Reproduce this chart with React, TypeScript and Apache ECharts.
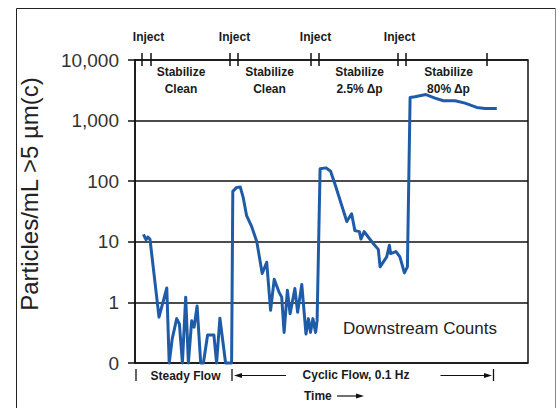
import React, { useEffect, useRef } from "react";
import * as echarts from "echarts";

// Time (arbitrary units, plot spans 0..131) and downstream particle counts (per mL, >5 µm(c)).
// A count of 0 is drawn on the "0" line (0.1 on the log scale).
const times = [
  2.8, 3.7, 4.3, 5.0, 8.0, 10.6, 11.4, 12.4, 13.9, 14.8,
  15.8, 16.9, 17.8, 18.9, 19.7, 20.7, 21.9, 22.8, 24.2, 26.3,
  27.2, 28.3, 30.2, 32.2, 32.6, 33.9, 35.1, 36.1, 37.2, 38.9,
  40.6, 42.4, 43.9, 45.2, 46.4, 48.0, 48.9, 49.7, 50.8, 51.7,
  53.3, 54.2, 55.6, 57.0, 57.8, 58.5, 59.3, 60.2, 60.7, 61.7,
  63.7, 65.2, 66.7, 70.6, 72.2, 73.3, 74.8, 75.3, 76.4, 77.8,
  79.4, 81.1, 81.7, 83.9, 84.8, 85.2, 87.0, 88.3, 89.8, 90.8,
  91.7, 93.3, 97.0, 100.0, 102.8, 106.7, 110.0, 113.9, 116.7, 120.6,
];
const counts = [
  13.3, 10.8, 12, 11, 0.57, 1.73, 0.1, 0.25, 0.54, 0.44,
  0.1, 1.22, 0.1, 0.5, 0.39, 0.87, 0.1, 0.1, 0.29, 0.29,
  0.1, 0.55, 0.1, 0.1, 68, 79, 80, 53, 27, 17.8,
  10, 3.0, 4.6, 0.74, 2.4, 1.48, 1.22, 0.32, 1.58, 0.65,
  1.69, 0.69, 1.97, 0.3, 0.54, 0.32, 0.54, 0.32, 0.5, 160,
  166, 146, 88, 21.6, 29, 15.3, 14.7, 11.1, 14.7, 11.9,
  9.4, 7.5, 3.86, 5.65, 8.8, 6.4, 6.9, 5.65, 3.07, 3.86,
  2400, 2476, 2690, 2355, 2125, 2125, 1945, 1650, 1585, 1585,
];
const yTickValues = [0.1, 1, 10, 100, 1000, 10000];
const yTickLabels = ["0", "1", "10", "100", "1,000", "10,000"];
const injectLabels = ["Inject", "Inject", "Inject", "Inject"];
const stabilizeLabels = ["Stabilize\nClean", "Stabilize\nClean", "Stabilize\n2.5% \u0394p", "Stabilize\n80% \u0394p"];

const FONT = "'Liberation Sans', Arial, Helvetica, sans-serif";
const INK = "#1a1a1a";

export default function App() {
  const ref = useRef<HTMLDivElement>(null);
  useEffect(() => {
    document.body.style.margin = "0";
    if (!ref.current) return;
    const chart = echarts.init(ref.current, null, { renderer: "svg" });

    const injectX = [148.5, 234.5, 315.5, 399.5];
    const stabX = [181, 269.5, 359.5, 448.5];
    const topTickX = [142, 151, 230, 238, 311, 319, 398, 406, 487];

    const bold = { fontFamily: FONT, fontWeight: "bold", fontSize: 12, fill: INK } as any;
    const ln = (x1: number, y1: number, x2: number, y2: number, stroke = "#111", lineWidth = 1.5) => ({
      type: "line",
      shape: { x1, y1, x2, y2 },
      style: { stroke, lineWidth },
      silent: true,
    });
    const graphics: any[] = [
      ln(16.5, 8.5, 16.5, 408, "#222", 1),
      ln(16.5, 8.5, 555.5, 8.5, "#222", 1),
      ln(555.5, 8.5, 555.5, 408, "#888", 1),
      {
        type: "text",
        x: 29,
        y: 194,
        rotation: Math.PI / 2,
        style: {
          text: "Particles/mL >5 \u00b5m(c)",
          fontFamily: FONT,
          fontSize: 24,
          fill: "#222",
          align: "center",
          verticalAlign: "middle",
        },
        silent: true,
      },
      ...injectLabels.map((t, i) => ({
        type: "text",
        x: injectX[i],
        y: 37,
        style: { ...bold, text: t, align: "center", verticalAlign: "middle" },
        silent: true,
      })),
      ...stabilizeLabels.map((t, i) => ({
        type: "text",
        x: stabX[i],
        y: 80.5,
        style: { ...bold, text: t, align: "center", verticalAlign: "middle", lineHeight: 17.6 },
        silent: true,
      })),
      ...topTickX.map((x) => ln(x, 53, x, 66, "#111", 1.5)),
      {
        type: "text",
        x: 343,
        y: 328,
        style: { text: "Downstream Counts", fontFamily: FONT, fontSize: 17, fill: "#222", align: "left", verticalAlign: "middle" },
        silent: true,
      },
      ln(136, 369, 136, 381, "#111", 1.3),
      {
        type: "text",
        x: 185.5,
        y: 376,
        style: { ...bold, text: "Steady Flow", align: "center", verticalAlign: "middle" },
        silent: true,
      },
      ln(232, 369, 232, 381, "#111", 1.3),
      ln(238, 375.5, 286, 375.5, "#111", 1.2),
      { type: "polygon", shape: { points: [[234, 375.5], [242, 373], [242, 378]] }, style: { fill: "#111" }, silent: true },
      {
        type: "text",
        x: 356,
        y: 375,
        style: { ...bold, text: "Cyclic Flow, 0.1 Hz", align: "center", verticalAlign: "middle" },
        silent: true,
      },
      ln(440.5, 375.5, 487, 375.5, "#111", 1.2),
      { type: "polygon", shape: { points: [[492, 375.5], [484, 373], [484, 378]] }, style: { fill: "#111" }, silent: true },
      ln(493.5, 369, 493.5, 381, "#111", 1.3),
      {
        type: "text",
        x: 304,
        y: 396,
        style: { ...bold, text: "Time", align: "left", verticalAlign: "middle" },
        silent: true,
      },
      ln(337, 396, 359, 396, "#111", 1.2),
      { type: "polygon", shape: { points: [[364, 396], [356, 393.5], [356, 398.5]] }, style: { fill: "#111" }, silent: true },
    ];

    chart.setOption({
      animation: false,
      grid: {
        left: 135,
        right: 32,
        top: 60,
        bottom: 45,
        show: true,
        borderColor: "#111",
        borderWidth: 1.5,
        containLabel: false,
      },
      xAxis: {
        type: "value",
        min: 0,
        max: 131,
        show: false,
      },
      yAxis: {
        type: "log",
        logBase: 10,
        min: 0.1,
        max: 10000,
        axisLine: { show: true, lineStyle: { color: "#111", width: 1.5 } },
        axisTick: { show: true, inside: false, length: 7, lineStyle: { color: "#111", width: 1.5 } },
        minorTick: { show: false },
        splitLine: { show: true, lineStyle: { color: "#111", width: 1.5 } },
        axisLabel: {
          margin: 16,
          fontFamily: FONT,
          fontSize: 19,
          color: "#333",
          formatter: (v: number) => {
            let best = 0;
            yTickValues.forEach((tv, i) => {
              if (Math.abs(Math.log10(tv) - Math.log10(v)) < Math.abs(Math.log10(yTickValues[best]) - Math.log10(v))) best = i;
            });
            return yTickLabels[best];
          },
        },
      },
      series: [
        {
          type: "line",
          data: times.map((t, i) => [t, counts[i]]),
          showSymbol: false,
          clip: false,
          lineStyle: { color: "#1f5ca8", width: 3, join: "round" },
          silent: true,
        },
      ],
      graphic: graphics,
    });
    return () => chart.dispose();
  }, []);
  return <div ref={ref} style={{ width: 560, height: 408 }} />;
}
